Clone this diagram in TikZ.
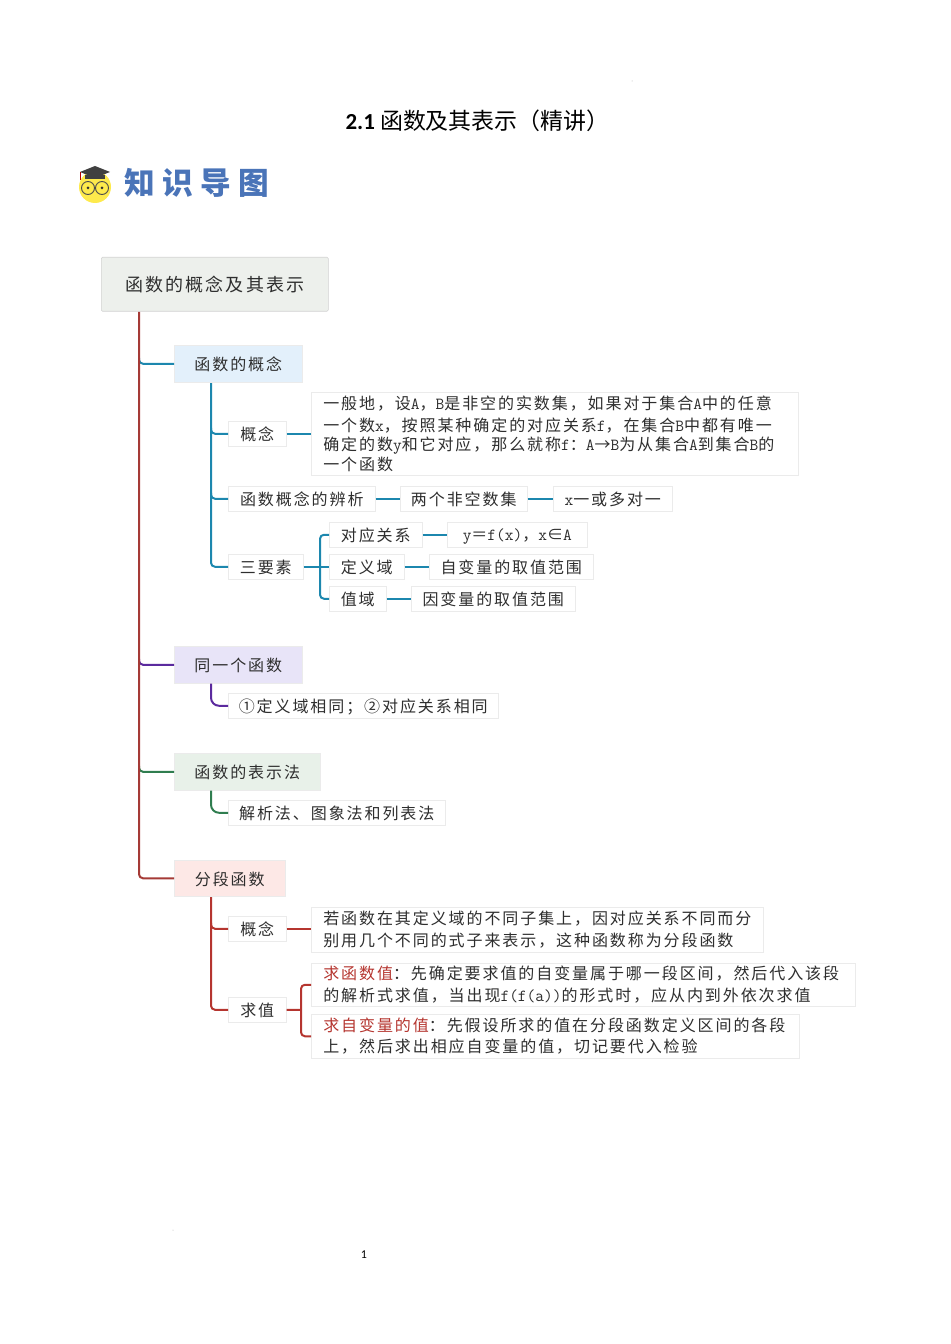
\documentclass[tikz,border=0pt]{standalone}
\usepackage{fontspec}
\setmainfont{Carlito}
\newfontfamily\cjk[LetterSpace=12]{Noto Sans CJK SC}
\newfontfamily\cjktitle{Noto Sans CJK SC}
\newfontfamily\cjklogo[LetterSpace=24]{Noto Sans CJK SC}
\newcommand{\lat}[1]{{\ttfamily\fontsize{12.7}{14.6}\selectfont #1}}
\newcommand{\redt}[1]{\textcolor{lnred}{#1}}
\newdimen\px
\px=0.75pt
\definecolor{txt}{HTML}{2E2E2E}
\definecolor{lntrunk}{HTML}{A53A36}
\definecolor{lnblue}{HTML}{1C87AE}
\definecolor{lnpurple}{HTML}{5B2A9E}
\definecolor{lngreen}{HTML}{2F7D4F}
\definecolor{lnred}{HTML}{B5352F}
\definecolor{fillroot}{HTML}{EDF0EC}
\definecolor{fillblue}{HTML}{E3F0FB}
\definecolor{fillpurple}{HTML}{E8E4F8}
\definecolor{fillgreen}{HTML}{E8F1E9}
\definecolor{fillred}{HTML}{FDE8E6}
\definecolor{logoblue}{HTML}{4A74B8}
\tikzset{
  cell/.style 2 args={draw=black!8,fill=white,text=txt,anchor=north west,inner sep=0pt,align=left,
    minimum width=#1\px-1\px,minimum height=#2\px-1\px,font=\cjk\fontsize{12}{14.6}\selectfont},
  leaf/.style 2 args={cell={#1}{#2},text depth=0pt},
  para/.style 2 args={cell={#1}{#2},text width=#1\px-25\px,execute at begin node={\vspace*{1.5pt}}},
  topic/.style n args={3}{leaf={#1}{#2},fill=#3,draw=black!8},
  wire/.style={line width=1.5pt,rounded corners=3pt},
}
\begin{document}
\begin{tikzpicture}[x=0.75pt,y=-0.75pt]
\useasboundingbox (0,0) rectangle (950,1344);
% heading
\node (title) at (477.5,121) {\fontsize{17.2}{20}\selectfont\textbf{2.1} \cjktitle 函数及其表示（精讲）};
\node (pageno) at (364,1255) {\fontsize{9}{11}\selectfont 1};
% logo
\fill [yellow!85!orange!70] (95,187) circle (16);
\fill [black!75] (80,172) -- (95,166) -- (110,172) -- (95,178) -- cycle;
\fill [black!75] (85,175) -- (105,175) -- (105,179) -- (85,179) -- cycle;
\draw [red!70!black,line width=0.5pt] (80,172) -- (80,180);
\draw [black!70,line width=0.7pt] (88,188) circle (6.5);
\draw [black!70,line width=0.7pt] (102,188) circle (6.5);
\fill [black!80] (88,188) circle (1.5);
\fill [black!80] (102,188) circle (1.5);
\node (logo) [anchor=west,inner sep=0pt,text=logoblue] at (124,183)
  {\cjklogo\bfseries\fontsize{23}{28}\selectfont 知识导图};
\fill [black!30] (632,81) circle (0.5);
\fill [black!30] (173,1230) circle (0.5);
% root
\node (root) [topic={228}{55}{fillroot},draw=black!18,rounded corners=1pt,font=\cjk\fontsize{13.5}{16}\selectfont] at (101,257) {函数的概念及其表示};
\coordinate (trunk) at (139,312);
% function concept
\node (concept) [topic={129}{38}{fillblue}] at (174,345) {函数的概念};
\coordinate (blue1) at (211,383);
\node (gainian) [leaf={59}{26}] at (228,421) {概念};
\node (gaitext) [para={488}{84}] at (311,392) {一般地，设\lat{A}，\lat{B}是非空的实数集，如果对于集合\lat{A}中的任意\\
  一个数\lat{x}，按照某种确定的对应关系\lat{f}，在集合\lat{B}中都有唯一\\
  确定的数\lat{y}和它对应，那么就称\lat{f}：\lat{A}→\lat{B}为从集合\lat{A}到集合\lat{B}的\\
  一个函数};
\node (bianxi) [leaf={148}{26}] at (228,486) {函数概念的辨析};
\node (liangge) [leaf={128}{26}] at (400,486) {两个非空数集};
\node (duoduiyi) [leaf={120}{26}] at (553,486) {\lat{x}一或多对一};
\node (sanyao) [leaf={76}{26}] at (228,554) {三要素};
\coordinate (sanfork) at (320,567);
\node (duiying) [leaf={94}{26}] at (329,522) {对应关系};
\node (yfx) [leaf={141}{26}] at (447,522) {\lat{y}＝\lat{f(x)}，\lat{x}∈\lat{A}};
\node (dingyi) [leaf={76}{26}] at (329,554) {定义域};
\node (zibian) [leaf={165}{26}] at (429,554) {自变量的取值范围};
\node (zhiyu) [leaf={58}{26}] at (329,586) {值域};
\node (yinbian) [leaf={165}{26}] at (411,586) {因变量的取值范围};
% same function
\node (same) [topic={129}{38}{fillpurple}] at (174,646) {同一个函数};
\node (sametext) [leaf={271}{26}] at (228,693) {①定义域相同；②对应关系相同};
% representation
\node (repr) [topic={147}{38}{fillgreen}] at (174,753) {函数的表示法};
\node (reprtext) [leaf={218}{26}] at (228,800) {解析法、图象法和列表法};
% piecewise
\node (piece) [topic={112}{37}{fillred}] at (174,860) {分段函数};
\coordinate (red1) at (211,897);
\node (piecegn) [leaf={59}{26}] at (228,916) {概念};
\node (piecetext) [para={453}{46}] at (311,907) {若函数在其定义域的不同子集上，因对应关系不同而分\\
  别用几个不同的式子来表示，这种函数称为分段函数};
\node (qiuzhi) [leaf={59}{26}] at (228,997) {求值};
\coordinate (qiufork) at (301,1010);
\node (qiuhan) [para={545}{44}] at (311,963) {\redt{求函数值}：先确定要求值的自变量属于哪一段区间，然后代入该段\\
  的解析式求值，当出现\lat{f(f(a))}的形式时，应从内到外依次求值};
\node (qiuzi) [para={489}{45}] at (311,1014) {\redt{求自变量的值}：先假设所求的值在分段函数定义区间的各段\\
  上，然后求出相应自变量的值，切记要代入检验};
% connectors of the trunk
\draw [wire,lnblue] (concept.west) -- (trunk |- concept.west) -- ++(0,-6);
\draw [wire,lnpurple] (same.west) -- (trunk |- same.west) -- ++(0,-6);
\draw [wire,lngreen] (repr.west) -- (trunk |- repr.west) -- ++(0,-6);
\draw [wire,lntrunk] (trunk) |- (piece.west);
% connectors of the first branch
\draw [wire,lnblue] (blue1) |- (sanyao.west);
\draw [wire,lnblue] (gainian.west) -- (blue1 |- gainian.west) -- ++(0,-6);
\draw [wire,lnblue] (bianxi.west) -- (blue1 |- bianxi.west) -- ++(0,-6);
\draw [wire,lnblue] (gainian.east) -- (gainian.east -| gaitext.west);
\draw [wire,lnblue] (bianxi) -- (liangge);
\draw [wire,lnblue] (liangge) -- (duoduiyi);
\draw [wire,lnblue] (sanyao) -- (dingyi);
\draw [wire,lnblue] (duiying.west) -| (sanfork) |- (zhiyu.west);
\draw [wire,lnblue] (duiying) -- (yfx);
\draw [wire,lnblue] (dingyi) -- (zibian);
\draw [wire,lnblue] (zhiyu) -- (yinbian);
% connectors below the other topics
\draw [wire,rounded corners=6pt,lnpurple] (blue1 |- same.south) |- (sametext.west);
\draw [wire,rounded corners=6pt,lngreen] (blue1 |- repr.south) |- (reprtext.west);
\draw [wire,lnred] (red1) |- (qiuzhi.west);
\draw [wire,lnred] (piecegn.west) -- (red1 |- piecegn.west) -- ++(0,-6);
\draw [wire,lnred] (piecegn.east) -- (piecegn.east -| piecetext.west);
\draw [wire,lnred] (qiuzhi.east) -- (qiufork);
\draw [wire,lnred] (qiuhan.west) -| (qiufork) |- (qiuzi.west);
\end{tikzpicture}
\end{document}
